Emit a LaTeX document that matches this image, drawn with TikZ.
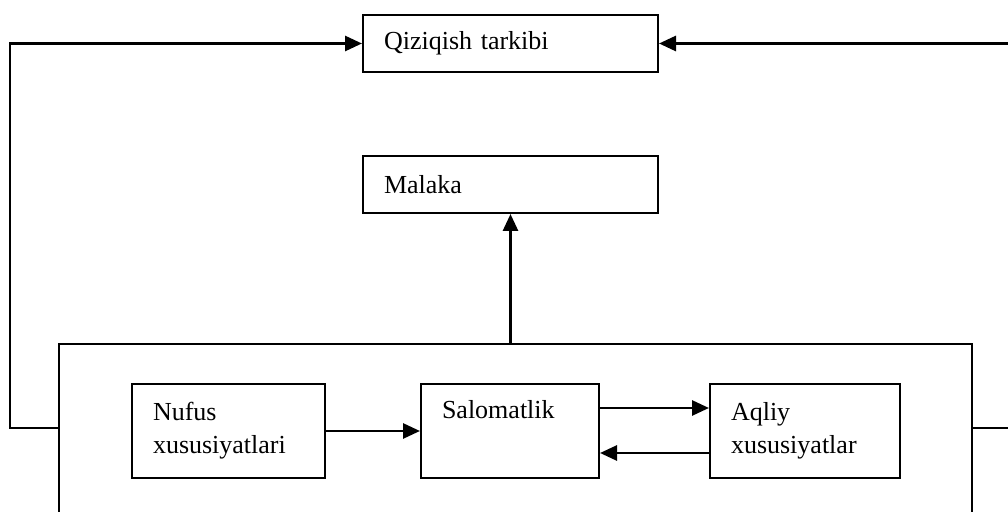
\documentclass[tikz,border=0pt]{standalone}
\usepackage{fontspec}
\setmainfont{Liberation Serif}
\usepackage{tikz}
\usetikzlibrary{arrows.meta}

\tikzset{
  box/.style 2 args={draw, line width=1pt, text width=#1, minimum height=#2,
    inner xsep=10.5pt, inner ysep=0pt, align=left, font=\fontsize{13}{16.5}\selectfont},
  link/.style={line width=1.4pt, -{Triangle[length=8.5pt,width=7.5pt]}},
  feed/.style={line width=1.4pt}
}

\begin{document}
\begin{tikzpicture}[x=0.5pt,y=0.5pt,yscale=-1,xscale=1]
\useasboundingbox (0,0) rectangle (1008,512);
\clip (0,0) rectangle (1008,512);

% Outer box (runs below the page)
\node [draw, line width=1pt, minimum width=456.5pt, minimum height=98pt] (outer) at (515.5,442) {};

% Text Node
\node [box={126.5pt}{28.5pt}] (qiziqish) at (510.5,43.5) {Qiziqish tarkibi};
% Text Node
\node [box={126.5pt}{28.5pt}] (malaka) at (510.5,184.5) {Malaka};
% Text Node
\node [box={75.5pt}{47pt}] (nufus) at (228.5,431) {Nufus\\xususiyatlari};
% Text Node
\node [box={68pt}{47pt}] (salomatlik) at (510,431) {Salomatlik\\\strut};
% Text Node
\node [box={74pt}{47pt}] (aqliy) at (805,431) {Aqliy\\xususiyatlar};

\coordinate (lside) at (10,428);
\coordinate (rside) at (1012,428);
\coordinate (upr) at (0,408);
\coordinate (lwr) at (0,453);

%Feedback lines
\draw [link] (outer.west |- lside) -- (lside) |- (qiziqish.west) ;
\draw [link] (outer.east |- rside) -- (rside) |- (qiziqish.east) ;
%Straight Lines
\draw [link] (malaka.south |- outer.north) -- (malaka.south) ;
\draw [link] (nufus.east) -- (salomatlik.west) ;
\draw [link] (salomatlik.east |- upr) -- (aqliy.west |- upr) ;
\draw [link] (aqliy.west |- lwr) -- (salomatlik.east |- lwr) ;

\end{tikzpicture}
\end{document}
